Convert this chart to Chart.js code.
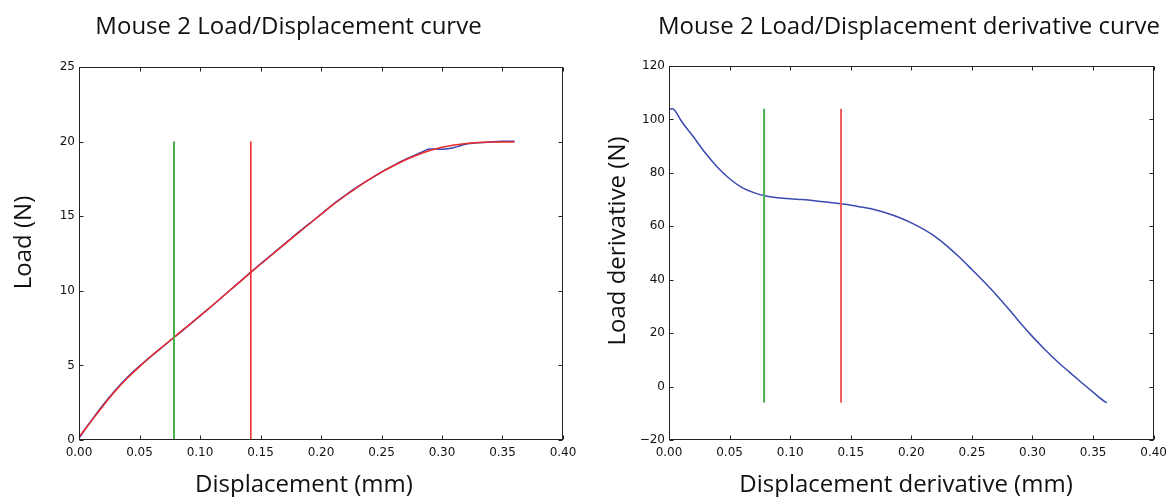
<!DOCTYPE html>
<html>
<head>
<meta charset="utf-8">
<title>Mouse 2 Load/Displacement</title>
<script src="https://cdn.jsdelivr.net/npm/chart.js@4.4.0/dist/chart.umd.min.js"></script>
<style>
  html, body { margin: 0; padding: 0; background: #fff; }
  #wrap { position: relative; width: 1173px; height: 497px; }
  canvas { position: absolute; top: 0; }
  #loadChart { left: 0; }
  #derivChart { left: 586px; }
</style>
</head>
<body>
<div id="wrap">
  <canvas id="loadChart" width="586" height="497"></canvas>
  <canvas id="derivChart" width="587" height="497"></canvas>
</div>
<script>
// fitted load curve, displacement in mm, load in N
const fitDisp = [0, 0.01, 0.02, 0.03, 0.04, 0.05, 0.06, 0.07, 0.08, 0.09, 0.10, 0.11, 0.12, 0.13, 0.14, 0.15, 0.16, 0.17, 0.18,
  0.19, 0.20, 0.21, 0.22, 0.23, 0.24, 0.25, 0.26, 0.27, 0.28, 0.29, 0.30, 0.31, 0.32, 0.33, 0.34, 0.35, 0.36];
const fitLoad = [0.2, 1.25, 2.3, 3.28, 4.15, 4.92, 5.65, 6.32, 6.98, 7.65, 8.32, 9.0, 9.7, 10.4, 11.1, 11.78, 12.45, 13.13, 13.8,
  14.46, 15.12, 15.77, 16.37, 16.94, 17.47, 17.95, 18.38, 18.78, 19.12, 19.4, 19.62, 19.77, 19.88, 19.94, 19.97, 19.98, 19.97];

// measured load
const rawDisp = [0, 0.005, 0.01, 0.02, 0.03, 0.04, 0.05, 0.06, 0.07, 0.08, 0.09, 0.10, 0.11, 0.12, 0.13, 0.14, 0.15, 0.16, 0.17,
  0.18, 0.19, 0.20, 0.21, 0.22, 0.23, 0.24, 0.25, 0.26, 0.27, 0.28, 0.285, 0.29, 0.295, 0.30, 0.305, 0.31, 0.315, 0.32, 0.33,
  0.34, 0.35, 0.36];
const rawLoad = [0.1, 0.72, 1.28, 2.36, 3.34, 4.2, 4.95, 5.64, 6.3, 6.97, 7.63, 8.32, 9.0, 9.7, 10.4, 11.1, 11.8, 12.47, 13.15,
  13.83, 14.48, 15.13, 15.8, 16.4, 16.96, 17.47, 17.96, 18.4, 18.82, 19.18, 19.36, 19.5, 19.5, 19.49, 19.52, 19.6, 19.72, 19.84,
  19.92, 19.98, 20.02, 20.02];

// derivative of the fitted curve
const derivDisp = [0, 0.003, 0.006, 0.01, 0.02, 0.03, 0.04, 0.05, 0.06, 0.07, 0.08, 0.09, 0.10, 0.11, 0.12, 0.13, 0.14, 0.15,
  0.16, 0.17, 0.18, 0.19, 0.20, 0.21, 0.22, 0.23, 0.24, 0.25, 0.26, 0.27, 0.28, 0.29, 0.30, 0.31, 0.32, 0.33, 0.34, 0.35, 0.36,
  0.3615];
const derivLoad = [103.8, 104.0, 102.6, 99.5, 93.6, 87.4, 82.1, 77.8, 74.6, 72.6, 71.3, 70.7, 70.3, 70.0, 69.6, 69.1, 68.5, 67.9,
  67.1, 66.2, 64.9, 63.3, 61.3, 58.9, 56.0, 52.4, 48.3, 43.8, 39.2, 34.4, 29.2, 23.8, 18.7, 14.0, 9.6, 5.6, 1.7, -2.1, -5.7,
  -6.0];

// vertical markers (green, red)
const markerDisp = [0.0785, 0.142];
const loadMarkerSpan = [0, 20];
const derivMarkerSpan = [-6, 104];

const xTicks = [0, 0.05, 0.10, 0.15, 0.20, 0.25, 0.30, 0.35, 0.40];
const loadTicks = [0, 5, 10, 15, 20, 25];
const derivTicks = [-20, 0, 20, 40, 60, 80, 100, 120];

const TEXT_FONT = '24px "Open Sans"';
const TICK_FONT = { family: 'DejaVu Sans', size: 12 };

function points(xs, ys) {
  return xs.map(function (x, i) { return { x: x, y: ys[i] }; });
}

function vline(x, span) {
  return [{ x: x, y: span[0] }, { x: x, y: span[1] }];
}

// box around the plot, inward ticks on all four sides, and the text labels
const framePlugin = {
  id: 'frame',
  afterDraw(chart, args, opts) {
    const ctx = chart.ctx;
    const a = chart.chartArea;
    const l = Math.round(a.left) + 0.5, r = Math.round(a.right) - 0.5;
    const t = Math.round(a.top) + 0.5, b = Math.round(a.bottom) - 0.5;
    ctx.save();
    ctx.strokeStyle = '#222';
    ctx.lineWidth = 1;
    ctx.strokeRect(l, t, r - l, b - t);
    ctx.beginPath();
    chart.scales.x.ticks.forEach(function (tk) {
      const px = Math.round(chart.scales.x.getPixelForValue(tk.value)) + 0.5;
      ctx.moveTo(px, b); ctx.lineTo(px, b - 4);
      ctx.moveTo(px, t); ctx.lineTo(px, t + 4);
    });
    chart.scales.y.ticks.forEach(function (tk) {
      const py = Math.round(chart.scales.y.getPixelForValue(tk.value)) + 0.5;
      ctx.moveTo(l, py); ctx.lineTo(l + 4, py);
      ctx.moveTo(r, py); ctx.lineTo(r - 4, py);
    });
    ctx.stroke();

    ctx.fillStyle = '#111';
    ctx.font = TEXT_FONT;
    ctx.textAlign = 'center';
    ctx.textBaseline = 'alphabetic';
    opts.texts.forEach(function (tx) {
      ctx.save();
      ctx.translate(tx.x, tx.y);
      if (tx.rotate) ctx.rotate(-Math.PI / 2);
      ctx.fillText(tx.text, 0, 0);
      ctx.restore();
    });
    ctx.restore();
  }
};

function makeChart(id, cfg) {
  return new Chart(document.getElementById(id), {
    type: 'line',
    data: { datasets: cfg.datasets },
    plugins: [framePlugin],
    options: {
      responsive: false,
      animation: false,
      events: [],
      layout: { padding: { top: cfg.top, right: cfg.right, left: 0, bottom: 0 } },
      elements: { point: { radius: 0 }, line: { cubicInterpolationMode: 'monotone' } },
      plugins: {
        legend: { display: false },
        tooltip: { enabled: false },
        frame: { texts: cfg.texts }
      },
      scales: {
        x: {
          type: 'linear',
          min: 0,
          max: 0.4,
          afterBuildTicks: function (s) { s.ticks = xTicks.map(function (v) { return { value: v }; }); },
          afterFit: function (s) { s.height = 57; },
          grid: { display: false, drawTicks: false },
          border: { display: false },
          ticks: {
            autoSkip: false,
            maxRotation: 0,
            padding: 6,
            color: '#111',
            font: TICK_FONT,
            callback: function (v) { return v.toFixed(2); }
          }
        },
        y: {
          min: cfg.yTicks[0],
          max: cfg.yTicks[cfg.yTicks.length - 1],
          afterBuildTicks: function (s) { s.ticks = cfg.yTicks.map(function (v) { return { value: v }; }); },
          afterFit: function (s) { s.width = cfg.left; },
          grid: { display: false, drawTicks: false },
          border: { display: false },
          ticks: {
            padding: 4,
            color: '#111',
            font: TICK_FONT,
            callback: function (v) { return v < 0 ? '\u2212' + Math.abs(v) : String(v); }
          }
        }
      }
    }
  });
}

document.addEventListener('DOMContentLoaded', function () {
  makeChart('loadChart', {
    top: 67,
    right: 23,
    left: 79,
    yTicks: loadTicks,
    datasets: [
      { data: vline(markerDisp[0], loadMarkerSpan), borderColor: '#4cae4c', borderWidth: 2, order: 0 },
      { data: vline(markerDisp[1], loadMarkerSpan), borderColor: '#f03030', borderWidth: 1.6, order: 0 },
      { data: points(fitDisp, fitLoad), borderColor: '#ee2a2a', borderWidth: 1.5, order: 1 },
      { data: points(rawDisp, rawLoad), borderColor: '#3444b4', borderWidth: 1.5, order: 2 }
    ],
    texts: [
      { text: 'Mouse 2 Load/Displacement curve', x: 288.5, y: 34 },
      { text: 'Displacement (mm)', x: 304, y: 492 },
      { text: 'Load (N)', x: 31, y: 242.5, rotate: true }
    ]
  });

  makeChart('derivChart', {
    top: 66,
    right: 18,
    left: 83,
    yTicks: derivTicks,
    datasets: [
      { data: vline(markerDisp[0], derivMarkerSpan), borderColor: '#4cae4c', borderWidth: 2, order: 0 },
      { data: vline(markerDisp[1], derivMarkerSpan), borderColor: '#f25a5a', borderWidth: 2, order: 0 },
      { data: points(derivDisp, derivLoad), borderColor: '#3a4ab0', borderWidth: 1.5, order: 1 }
    ],
    texts: [
      { text: 'Mouse 2 Load/Displacement derivative curve', x: 323, y: 34 },
      { text: 'Displacement derivative (mm)', x: 320, y: 492 },
      { text: 'Load derivative (N)', x: 38.5, y: 241, rotate: true }
    ]
  });
});
</script>
</body>
</html>
